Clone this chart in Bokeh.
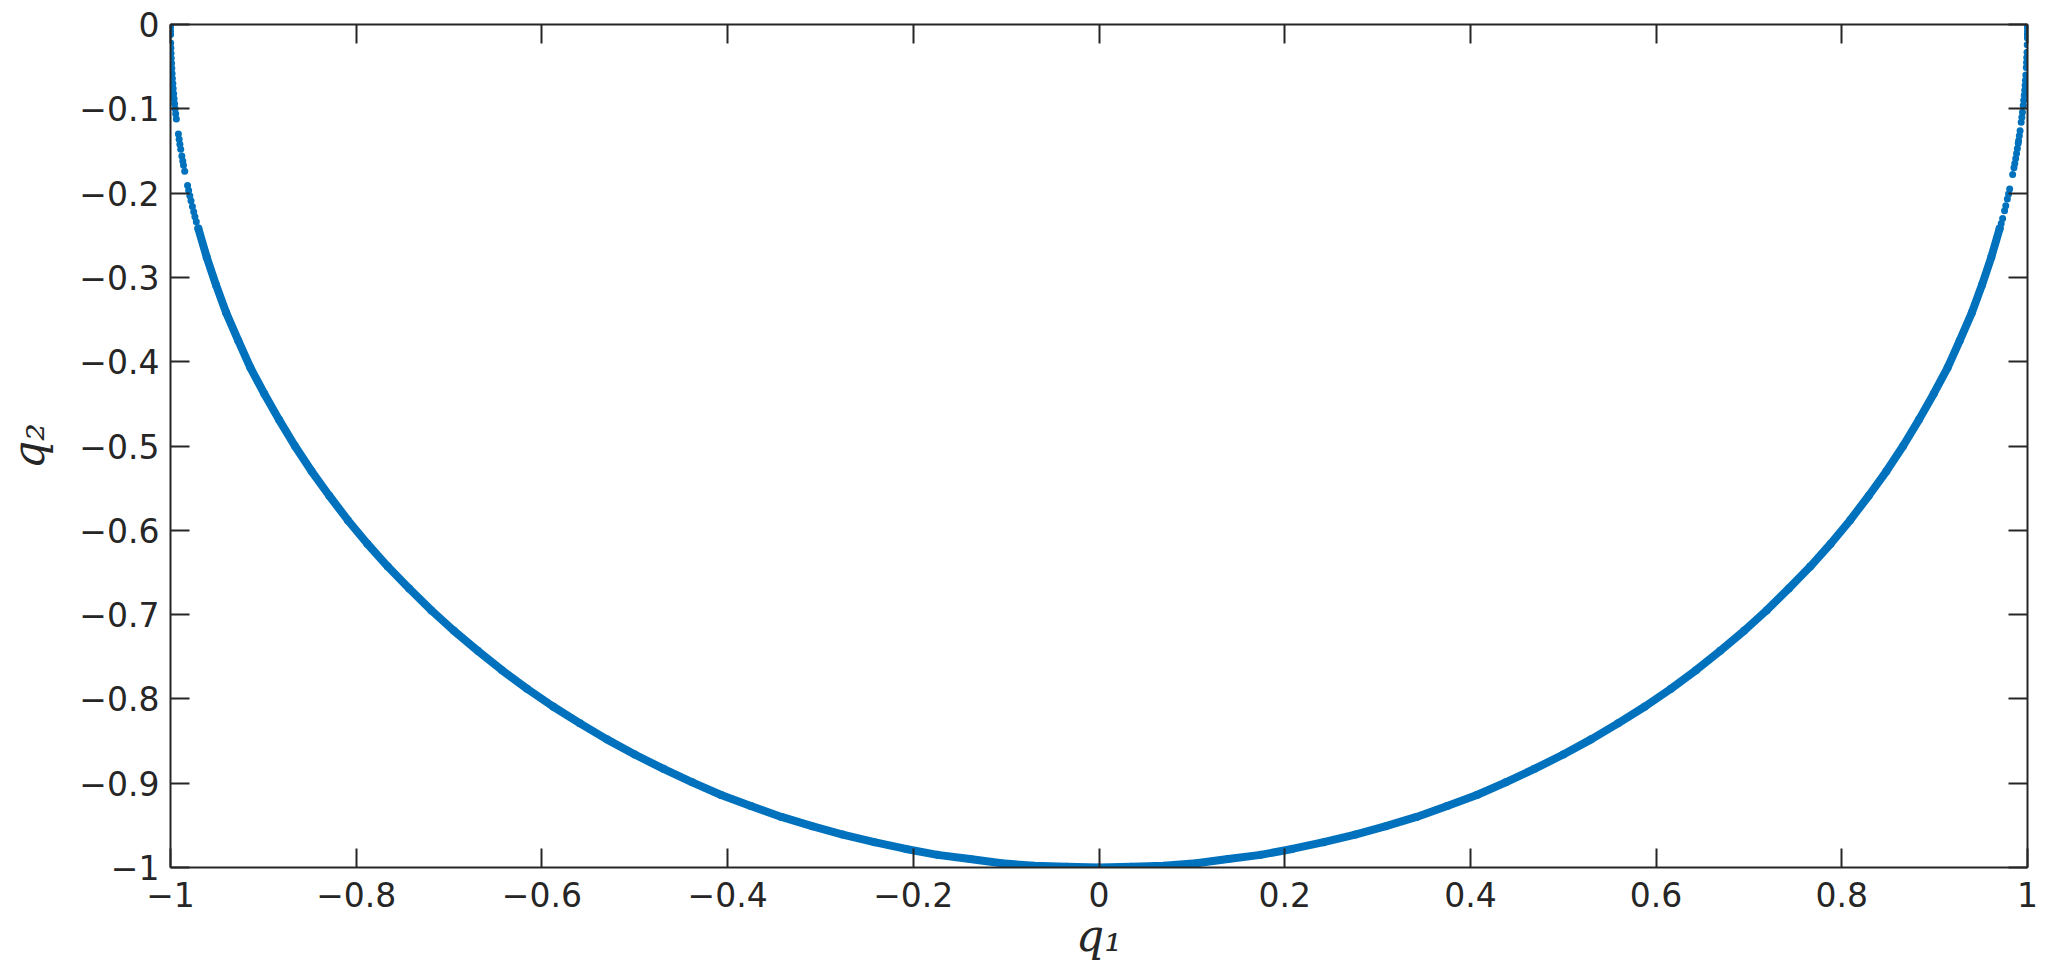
import numpy as np
from bokeh.plotting import figure
from bokeh.models import Range1d, FixedTicker, LinearAxis, CustomJSTickFormatter
from bokeh.embed import file_html
from bokeh.resources import INLINE

BLUE = "#0072BD"
AX = "#262626"

# ---- data ----
# main (dense) part of the arc
arc_q1 = [-0.970, -0.961, -0.951, -0.940, -0.927, -0.914, -0.899, -0.883, -0.866, -0.848,
          -0.829, -0.809, -0.788, -0.766, -0.743, -0.719, -0.695, -0.669, -0.643, -0.616,
          -0.588, -0.559, -0.530, -0.500, -0.469, -0.438, -0.407, -0.375, -0.342, -0.309,
          -0.276, -0.242, -0.208, -0.174, -0.139, -0.105, -0.070, -0.035, 0.000,
          0.035, 0.070, 0.105, 0.139, 0.174, 0.208, 0.242, 0.276, 0.309, 0.342,
          0.375, 0.407, 0.438, 0.469, 0.500, 0.530, 0.559, 0.588, 0.616, 0.643,
          0.669, 0.695, 0.719, 0.743, 0.766, 0.788, 0.809, 0.829, 0.848, 0.866,
          0.883, 0.899, 0.914, 0.927, 0.940, 0.951, 0.961, 0.970]
arc_q2 = [-0.242, -0.276, -0.309, -0.342, -0.375, -0.407, -0.438, -0.469, -0.500, -0.530,
          -0.559, -0.588, -0.616, -0.643, -0.669, -0.695, -0.719, -0.743, -0.766, -0.788,
          -0.809, -0.829, -0.848, -0.866, -0.883, -0.899, -0.914, -0.927, -0.940, -0.951,
          -0.961, -0.970, -0.978, -0.985, -0.990, -0.995, -0.998, -0.999, -1.000,
          -0.999, -0.998, -0.995, -0.990, -0.985, -0.978, -0.970, -0.961, -0.951, -0.940,
          -0.927, -0.914, -0.899, -0.883, -0.866, -0.848, -0.829, -0.809, -0.788, -0.766,
          -0.743, -0.719, -0.695, -0.669, -0.643, -0.616, -0.588, -0.559, -0.530, -0.500,
          -0.469, -0.438, -0.407, -0.375, -0.342, -0.309, -0.276, -0.242]

# sparse points near the left end (q1 close to -1)
left_q1 = [-1.0000, -1.0000, -1.0000, -0.9999, -0.9998, -0.9996, -0.9994, -0.9992, -0.9989,
           -0.9986, -0.9983, -0.9980, -0.9975, -0.9971, -0.9966, -0.9961, -0.9956, -0.9950,
           -0.9944, -0.9937, -0.9915, -0.9907, -0.9899, -0.9890, -0.9878, -0.9868, -0.9860,
           -0.9847, -0.9816, -0.9804, -0.9792, -0.9779, -0.9764, -0.9750, -0.9737, -0.9722]
left_q2 = [0.000, -0.004, -0.008, -0.012, -0.022, -0.028, -0.034, -0.040, -0.046,
           -0.052, -0.058, -0.064, -0.070, -0.076, -0.082, -0.088, -0.094, -0.100,
           -0.106, -0.112, -0.130, -0.136, -0.142, -0.148, -0.156, -0.162, -0.167,
           -0.174, -0.191, -0.197, -0.203, -0.209, -0.216, -0.222, -0.228, -0.234]

# sparse points near the right end (q1 close to 1)
right_q1 = [1.0000, 1.0000, 1.0000, 0.9999, 0.9999, 0.9997, 0.9995, 0.9992, 0.9990, 0.9987,
            0.9982, 0.9978, 0.9974, 0.9970, 0.9965, 0.9959, 0.9954, 0.9946, 0.9939, 0.9932,
            0.9920, 0.9912, 0.9904, 0.9900, 0.9891, 0.9882, 0.9873, 0.9863, 0.9854, 0.9840,
            0.9808, 0.9796, 0.9783, 0.9766, 0.9753, 0.9732, 0.9717]
right_q2 = [0.000, -0.004, -0.008, -0.012, -0.016, -0.024, -0.033, -0.039, -0.045, -0.051,
            -0.060, -0.066, -0.072, -0.078, -0.084, -0.090, -0.096, -0.104, -0.110, -0.116,
            -0.126, -0.132, -0.138, -0.141, -0.147, -0.153, -0.159, -0.165, -0.170, -0.178,
            -0.195, -0.201, -0.207, -0.215, -0.221, -0.230, -0.236]

x_ticks = [-1, -0.8, -0.6, -0.4, -0.2, 0, 0.2, 0.4, 0.6, 0.8, 1]
x_tick_labels = ["\u22121", "\u22120.8", "\u22120.6", "\u22120.4", "\u22120.2", "0",
                 "0.2", "0.4", "0.6", "0.8", "1"]
y_ticks = [-1, -0.9, -0.8, -0.7, -0.6, -0.5, -0.4, -0.3, -0.2, -0.1, 0]
y_tick_labels = ["\u22121", "\u22120.9", "\u22120.8", "\u22120.7", "\u22120.6", "\u22120.5",
                 "\u22120.4", "\u22120.3", "\u22120.2", "\u22120.1", "0"]
x_label = "q\u2081"
y_label = "q\u2082"

# ---- figure ----
p = figure(width=2040, height=979, output_backend="svg", toolbar_location=None,
           x_range=Range1d(-1, 1), y_range=Range1d(-1, 0),
           min_border_left=166, min_border_right=13, min_border_top=24, min_border_bottom=112)
p.outline_line_color = None
p.xgrid.visible = False
p.ygrid.visible = False
p.background_fill_color = "white"
p.border_fill_color = "white"

TICK_FONT = "DejaVu Sans"
LAB_FONT = "DejaVu Serif"


def style_axis(ax):
    ax.axis_line_color = AX
    ax.axis_line_width = 2
    ax.major_tick_line_color = AX
    ax.major_tick_line_width = 2
    ax.major_tick_in = 19
    ax.major_tick_out = 0
    ax.minor_tick_line_color = None
    ax.major_label_text_color = AX
    ax.major_label_text_font = TICK_FONT
    ax.major_label_text_font_size = "33px"
    ax.axis_label_text_font = LAB_FONT
    ax.axis_label_text_font_style = "italic"
    ax.axis_label_text_font_size = "44px"
    ax.axis_label_text_color = AX


xa = p.xaxis[0]
xa.ticker = FixedTicker(ticks=x_ticks)
xa.major_label_overrides = dict(zip(x_ticks, x_tick_labels))
xa.major_label_standoff = 14
style_axis(xa)
xa.axis_label = x_label
xa.axis_label_standoff = 0

ya = p.yaxis[0]
ya.ticker = FixedTicker(ticks=y_ticks)
ya.major_label_overrides = dict(zip(y_ticks, y_tick_labels))
ya.major_label_standoff = 11
style_axis(ya)
ya.axis_label = y_label
ya.axis_label_standoff = 22

empty = CustomJSTickFormatter(code="return '';")
top = LinearAxis(ticker=FixedTicker(ticks=x_ticks), formatter=empty, major_label_standoff=0)
style_axis(top)
top.major_label_text_font_size = "10px"
p.add_layout(top, "above")
right = LinearAxis(ticker=FixedTicker(ticks=y_ticks), formatter=empty, major_label_standoff=0)
style_axis(right)
right.major_label_text_font_size = "10px"
p.add_layout(right, "right")

# ---- data marks ----
p.line(arc_q1, arc_q2, line_width=8, line_color=BLUE, line_join="round", line_cap="round")
p.scatter(arc_q1, arc_q2, size=8, fill_color=BLUE, line_color=None)
p.scatter(left_q1, left_q2, size=7, fill_color=BLUE, line_color=None)
p.scatter(right_q1, right_q2, size=7, fill_color=BLUE, line_color=None)

open("out.html", "w").write(file_html(p, INLINE))
